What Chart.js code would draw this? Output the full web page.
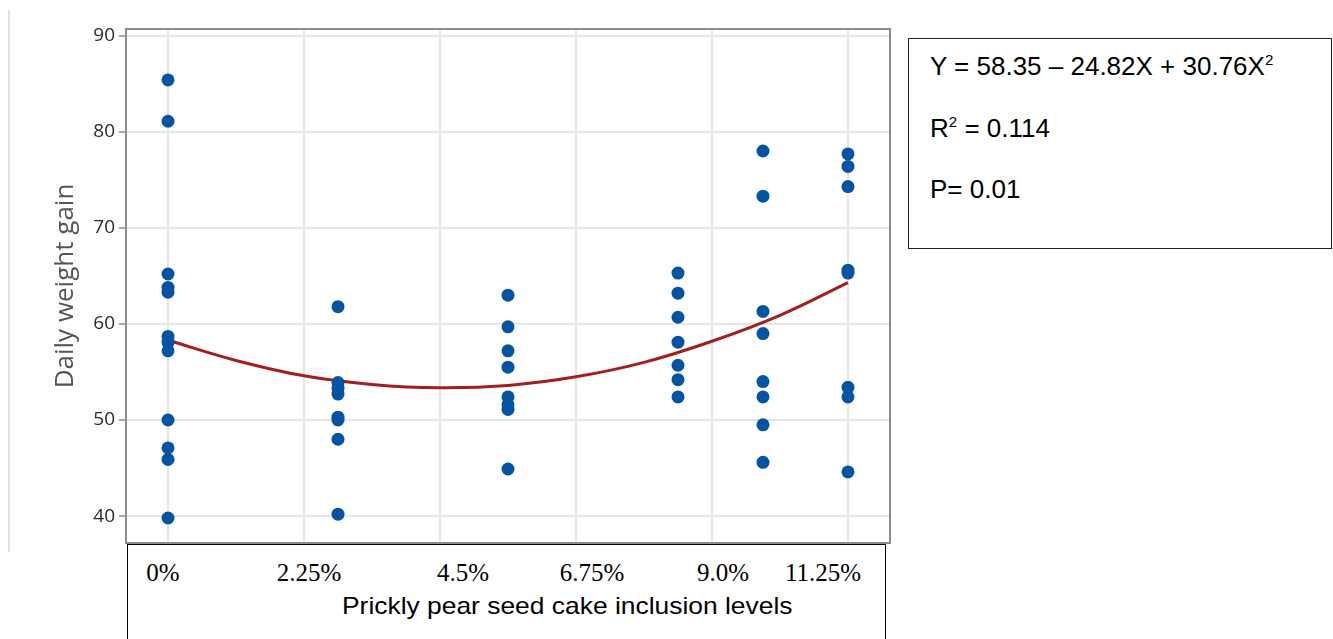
<!DOCTYPE html>
<html>
<head>
<meta charset="utf-8">
<script src="https://cdn.jsdelivr.net/npm/chart.js@4.4.1/dist/chart.umd.min.js"></script>
<style>
html,body{margin:0;padding:0;background:#fff;}
#wrap{position:relative;width:1333px;height:639px;overflow:hidden;background:#fff;}
#c{position:absolute;left:0;top:0;}
#vline{position:absolute;left:8px;top:10px;width:2px;height:542px;background:#e2e2e2;}
#xbox{position:absolute;left:127px;top:544px;width:759px;height:120px;box-sizing:border-box;border:1px solid #000;background:#fff;}
.xl{position:absolute;top:560px;font-family:"Liberation Serif",serif;font-size:25px;line-height:25px;color:#000;white-space:nowrap;transform:translateX(-50%) scaleY(1.05);transform-origin:50% 100%;}
#xtitle{position:absolute;left:342px;top:594px;font-family:"Liberation Sans",Arial,sans-serif;font-size:24px;line-height:24px;color:#000;white-space:nowrap;transform:scaleX(1.1);transform-origin:0 0;}
#eqbox{position:absolute;left:908px;top:38px;width:424px;height:211px;box-sizing:border-box;border:1px solid #222;background:#fff;}
.eq{position:absolute;left:930px;font-family:"Liberation Sans",Arial,sans-serif;font-size:26px;line-height:26px;color:#000;white-space:nowrap;}
.eq sup{font-size:58%;line-height:0;vertical-align:0.65em;}
</style>
</head>
<body>
<div id="wrap">
  <div id="vline"></div>
  <canvas id="c" width="1333" height="639"></canvas>
  <div id="xbox"></div>
  <div id="xlabels"></div>
  <div id="xtitle"></div>
  <div id="eqbox"></div>
  <div class="eq" id="eq1" style="top:53px"></div>
  <div class="eq" id="eq2" style="top:115px"></div>
  <div class="eq" id="eq3" style="top:176px"></div>
</div>
<script>
// ---- data ----
const levels = [0, 0.25, 0.5, 0.75, 0.875, 1.0];
const gain0 = [85.4, 81.1, 65.2, 63.8, 63.3, 58.7, 58.1, 57.2, 50.0, 47.1, 45.9, 39.8];
const gain1 = [61.8, 53.9, 53.3, 52.7, 50.3, 50.0, 48.0, 40.2];
const gain2 = [63.0, 59.7, 57.2, 55.5, 52.4, 51.6, 51.1, 44.9];
const gain3 = [65.3, 63.2, 60.7, 58.1, 55.7, 54.2, 52.4];
const gain4 = [78.0, 73.3, 61.3, 59.0, 54.0, 52.4, 49.5, 45.6];
const gain5 = [77.7, 76.4, 74.3, 65.6, 65.3, 53.4, 52.4, 44.6];
const fitX = [0, 0.1, 0.2, 0.3, 0.4, 0.5, 0.6, 0.7, 0.8, 0.9, 1.0];
const fitY = [58.3, 56.2, 54.6, 53.7, 53.35, 53.6, 54.5, 56.0, 58.2, 60.9, 64.3];
const yTicks = [40, 50, 60, 70, 80, 90];
const xGrid = [0, 0.2, 0.4, 0.6, 0.8, 1.0];
const levelLabels = ["0%", "2.25%", "4.5%", "6.75%", "9.0%", "11.25%"];
const xTitle = "Prickly pear seed cake inclusion levels";
const yTitle = "Daily weight gain";
const eqLines = ["Y = 58.35 \u2013 24.82X + 30.76X<sup>2</sup>", "R<sup>2</sup> = 0.114", "P= 0.01"];

// ---- layout (positions of overlay labels) ----
const labelCenters = [163, 309, 463, 592, 723, 823];

const groups = [gain0, gain1, gain2, gain3, gain4, gain5];
const points = [];
groups.forEach((g, i) => g.forEach(v => points.push({x: levels[i], y: v})));
const fit = fitX.map((x, i) => ({x: x, y: fitY[i]}));

const framePlugin = {
  id: 'frame',
  beforeDatasetsDraw(chart) {
    const {ctx, chartArea: a} = chart;
    ctx.save();
    ctx.strokeStyle = '#8c8c8c';
    ctx.lineWidth = 2;
    ctx.strokeRect(a.left, a.top, a.right - a.left, a.bottom - a.top);
    ctx.restore();
  }
};

new Chart(document.getElementById('c'), {
  type: 'scatter',
  data: {
    datasets: [
      {
        type: 'scatter',
        data: points,
        backgroundColor: '#0554a4',
        borderColor: '#0554a4',
        pointRadius: 6.5,
        pointHoverRadius: 6.5,
        borderWidth: 0,
        order: 1
      },
      {
        type: 'line',
        data: fit,
        borderColor: '#a31f1f',
        borderWidth: 3,
        pointRadius: 0,
        tension: 0.4,
        fill: false,
        order: 2
      }
    ]
  },
  options: {
    responsive: false,
    animation: false,
    devicePixelRatio: 1,
    layout: {padding: {left: 0, top: 29, right: 443, bottom: 96}},
    plugins: {legend: {display: false}, tooltip: {enabled: false}},
    scales: {
      x: {
        type: 'linear',
        min: -0.0618,
        max: 1.0618,
        afterBuildTicks: s => { s.ticks = xGrid.map(v => ({value: v})); },
        afterFit: s => { s.height = 0; },
        ticks: {display: false},
        grid: {color: '#e6e6e6', lineWidth: 2, drawTicks: false},
        border: {display: false}
      },
      y: {
        type: 'linear',
        min: 37.2,
        max: 90.7,
        afterBuildTicks: s => { s.ticks = yTicks.map(v => ({value: v})); },
        afterFit: s => { s.width = 126; },
        ticks: {padding: 4, color: '#2b2b2b', font: {family: 'Open Sans', size: 19}},
        grid: {color: '#e6e6e6', lineWidth: 2, drawTicks: true, tickLength: 7, tickColor: '#8c8c8c', tickWidth: 1.5},
        border: {display: false},
        title: {display: true, text: yTitle, color: '#555555', font: {family: 'Open Sans', size: 26}, padding: {top: 50, bottom: 0}}
      }
    }
  },
  plugins: [framePlugin]
});

// overlay texts
const xl = document.getElementById('xlabels');
levelLabels.forEach((t, i) => {
  const d = document.createElement('div');
  d.className = 'xl';
  d.style.left = labelCenters[i] + 'px';
  d.textContent = t;
  xl.appendChild(d);
});
document.getElementById('xtitle').textContent = xTitle;
document.getElementById('eq1').innerHTML = eqLines[0];
document.getElementById('eq2').innerHTML = eqLines[1];
document.getElementById('eq3').innerHTML = eqLines[2];
</script>
</body>
</html>
